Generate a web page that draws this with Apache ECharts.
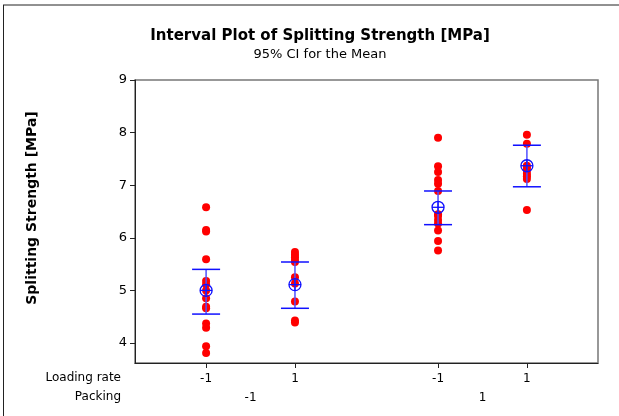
<!DOCTYPE html>
<html>
<head>
<meta charset="utf-8">
<script src="https://cdn.jsdelivr.net/npm/echarts@6/dist/echarts.min.js"></script>
<style>
  html, body { margin: 0; padding: 0; background: #fff; }
  #chart { width: 619px; height: 416px; }
</style>
</head>
<body>
<div id="chart"></div>
<script>
// positions of the four groups on the x scale (gap between packing levels)
const groupPos = [1, 2, 3.61, 4.61];
const loadingRate = ["-1", "1", "-1", "1"];
const packingPos = [1.5, 4.11];
const packing = ["-1", "1"];
const yTicks = [4, 5, 6, 7, 8, 9];

// individual observations per group
const group1 = [6.58, 6.15, 6.12, 5.59, 5.18, 5.11, 5.0, 4.85, 4.69, 4.66, 4.37, 4.29, 3.94, 3.81];
const group2 = [5.73, 5.68, 5.63, 5.58, 5.54, 5.25, 5.13, 4.79, 4.43, 4.39];
const group3 = [7.9, 7.36, 7.25, 7.1, 7.03, 6.89, 6.45, 6.42, 6.34, 6.27, 6.14, 5.94, 5.76];
const group4 = [7.96, 7.79, 7.37, 7.33, 7.28, 7.22, 7.17, 7.12, 6.53];

// mean and 95% CI per group
const means = [5.0, 5.11, 6.58, 7.37];
const ciLow = [4.55, 4.66, 6.25, 6.97];
const ciHigh = [5.4, 5.54, 6.89, 7.76];

const groups = [group1, group2, group3, group4];
const points = [];
groups.forEach((g, i) => g.forEach((v) => points.push([groupPos[i], v])));
const intervals = groupPos.map((x, i) => [x, means[i], ciLow[i], ciHigh[i]]);

const font = "DejaVu Sans";
const chart = echarts.init(document.getElementById("chart"));

chart.setOption({
  animation: false,
  title: {
    text: "Interval Plot of Splitting Strength [MPa]",
    subtext: "95% CI for the Mean",
    left: 315,
    textAlign: "center",
    top: 24,
    itemGap: 4,
    textStyle: { fontFamily: font, fontSize: 15, fontWeight: "bold", color: "#000" },
    subtextStyle: { fontFamily: font, fontSize: 13, color: "#000" },
  },
  grid: {
    left: 135, top: 80, width: 463, height: 283,
    show: true, borderColor: "#777", borderWidth: 1.5, backgroundColor: "#fff",
  },
  xAxis: [
    {
      type: "value", min: 0.2, max: 5.41,
      axisLine: { show: true, lineStyle: { color: "#222", width: 1 } },
      axisTick: { show: true, customValues: groupPos, length: 5, lineStyle: { color: "#222" } },
      axisLabel: {
        customValues: groupPos, margin: 10, fontFamily: font, fontSize: 12, color: "#000",
        formatter: (v) => loadingRate[groupPos.indexOf(v)],
      },
      splitLine: { show: false },
    },
    {
      type: "value", min: 0.2, max: 5.41, position: "bottom", offset: 19,
      axisLine: { show: false },
      axisTick: { show: false },
      axisLabel: {
        customValues: packingPos, margin: 10, fontFamily: font, fontSize: 12, color: "#000",
        formatter: (v) => packing[packingPos.indexOf(v)],
      },
      splitLine: { show: false },
    },
  ],
  yAxis: {
    type: "value", min: 3.62, max: 9,
    axisLine: { show: true, lineStyle: { color: "#222", width: 1 } },
    axisTick: { show: true, customValues: yTicks, length: 5, lineStyle: { color: "#222" } },
    axisLabel: { customValues: yTicks, margin: 8, fontFamily: font, fontSize: 13, color: "#000" },
    splitLine: { show: false },
  },
  graphic: [
    { type: "line", shape: { x1: 3, y1: 5, x2: 619, y2: 5 }, style: { stroke: "#222", lineWidth: 1 } },
    { type: "line", shape: { x1: 3.5, y1: 5, x2: 3.5, y2: 416 }, style: { stroke: "#222", lineWidth: 1 } },
    {
      type: "text", x: 32, y: 208, rotation: Math.PI / 2,
      style: { text: "Splitting Strength [MPa]", font: "bold 14px DejaVu Sans", fill: "#000", align: "center", verticalAlign: "middle" },
    },
    {
      type: "text", x: 121, y: 378,
      style: { text: "Loading rate", font: "12px DejaVu Sans", fill: "#000", align: "right", verticalAlign: "middle" },
    },
    {
      type: "text", x: 121, y: 397,
      style: { text: "Packing", font: "12px DejaVu Sans", fill: "#000", align: "right", verticalAlign: "middle" },
    },
  ],
  series: [
    {
      type: "scatter", data: points, symbolSize: 8,
      itemStyle: { color: "#ff0000", opacity: 1 },
      z: 2,
    },
    {
      type: "custom", data: intervals, z: 3,
      renderItem: (params, api) => {
        const x = api.value(0);
        const m = api.coord([x, api.value(1)]);
        const lo = api.coord([x, api.value(2)]);
        const hi = api.coord([x, api.value(3)]);
        const half = 14;
        const r = 6;
        const blue = "#1010ff";
        return {
          type: "group",
          children: [
            { type: "line", shape: { x1: lo[0], y1: lo[1], x2: hi[0], y2: hi[1] }, style: { stroke: "#5050ff", lineWidth: 1.5 } },
            { type: "line", shape: { x1: lo[0] - half, y1: lo[1], x2: lo[0] + half, y2: lo[1] }, style: { stroke: blue, lineWidth: 1.5 } },
            { type: "line", shape: { x1: hi[0] - half, y1: hi[1], x2: hi[0] + half, y2: hi[1] }, style: { stroke: blue, lineWidth: 1.5 } },
            { type: "circle", shape: { cx: m[0], cy: m[1], r: r }, style: { fill: "none", stroke: blue, lineWidth: 1.3 } },
            { type: "line", shape: { x1: m[0] - r, y1: m[1], x2: m[0] + r, y2: m[1] }, style: { stroke: blue, lineWidth: 1.3 } },
            { type: "line", shape: { x1: m[0], y1: m[1] - r, x2: m[0], y2: m[1] + r }, style: { stroke: blue, lineWidth: 1.3 } },
          ],
        };
      },
    },
  ],
});
</script>
</body>
</html>
